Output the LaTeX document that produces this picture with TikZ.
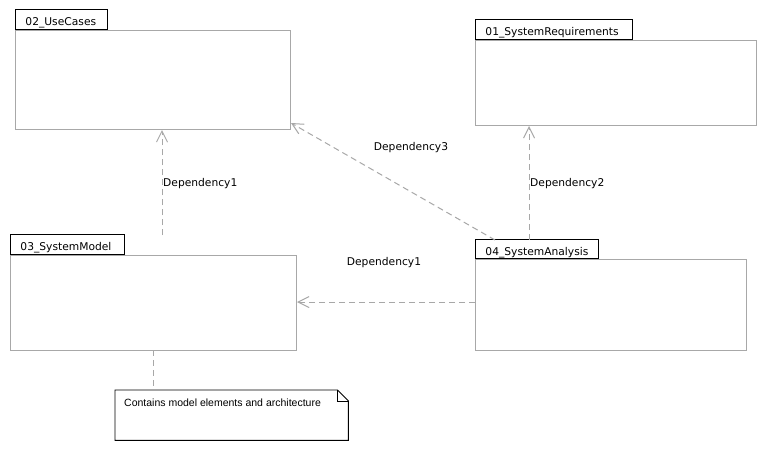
\documentclass[tikz,border=0pt]{standalone}
\usepackage{fontspec}
\setmainfont{DejaVu Sans}
\newfontfamily\notefont{Liberation Sans}
\usetikzlibrary{arrows.meta,calc}
\definecolor{linegray}{HTML}{A8A8A8}
\begin{document}
\begin{tikzpicture}[x=1pt,y=-1pt,
  pkgbody/.style={draw=linegray,line width=1pt,anchor=north west,inner sep=0pt},
  pkgtab/.style={draw=black,line width=0.9pt,anchor=south west,inner xsep=10pt,inner ysep=0pt,
     font=\fontsize{10.7}{12}\selectfont,align=left,minimum height=20pt,
     text height=12.5pt,text depth=0.5pt},
  deplabel/.style={font=\fontsize{10.7}{12}\selectfont,inner sep=0pt},
  dep/.style={draw=linegray,line width=1pt,dash pattern=on 6pt off 4pt,
     -{Straight Barb[length=11pt,width=11pt,line width=1pt]}},
  notelink/.style={draw=linegray,line width=1pt,dash pattern=on 6pt off 4pt}]
\useasboundingbox[fill=white] (0,0) rectangle (766,451);

% tabs
\node[pkgtab,text width=72pt] (tab2) at (15,30) {02\_UseCases};
\node[pkgtab,text width=137pt] (tab1) at (475,40) {01\_SystemRequirements};
\node[pkgtab,text width=94pt] (tab3) at (10,255) {03\_SystemModel};
\node[pkgtab,text width=103pt,minimum height=19pt] (tab4) at (475,259) {04\_SystemAnalysis};

% bodies
\node[pkgbody,minimum width=275pt,minimum height=99pt] (body2) at (15,30) {};
\node[pkgbody,minimum width=281pt,minimum height=85pt] (body1) at (475,40) {};
\node[pkgbody,minimum width=286pt,minimum height=95pt] (body3) at (10,255) {};
\node[pkgbody,minimum width=271pt,minimum height=91pt] (body4) at (475,259) {};

% note
\node[anchor=north west,minimum width=233pt,minimum height=50pt,inner sep=0pt] (note) at (115,390) {};
\node[anchor=west,inner sep=0pt,font=\notefont\fontsize{10.5}{12}\selectfont] (notetext) at (124,403) {Contains model elements and architecture};
\draw[black,line width=0.9pt] (note.north west) -- ($(note.north east)+(-11,0)$) -- ($(note.north east)+(0,11)$) -- (note.south east) -- (note.south west) -- cycle;
\draw[black,line width=0.9pt] ($(note.north east)+(-11,0)$) -- ($(note.north east)+(-11,11)$) -- ($(note.north east)+(0,11)$);

% connector end points
\coordinate (d1start) at (162,235);
\coordinate (d3start) at (495,240);
\coordinate (d3end) at (291,123);
\coordinate (d2start) at (529,240);
\coordinate (d4start) at (475,302);
\coordinate (nstart) at (153,350);

% connectors
\draw[dep] (d1start) -- (body2.south -| d1start);
\draw[dep] (d3start) -- (d3end);
\draw[dep] (d2start) -- (body1.south -| d2start);
\draw[dep] (d4start) -- (body3.east |- d4start);
\draw[notelink] (nstart) -- (note.north -| nstart);

% labels
\node[deplabel,anchor=west] (l1) at (163,184) {Dependency1};
\node[deplabel] (l3) at (411,148) {Dependency3};
\node[deplabel,anchor=west] (l2) at (530,184) {Dependency2};
\node[deplabel] (l4) at (384,263) {Dependency1};
\end{tikzpicture}
\end{document}
